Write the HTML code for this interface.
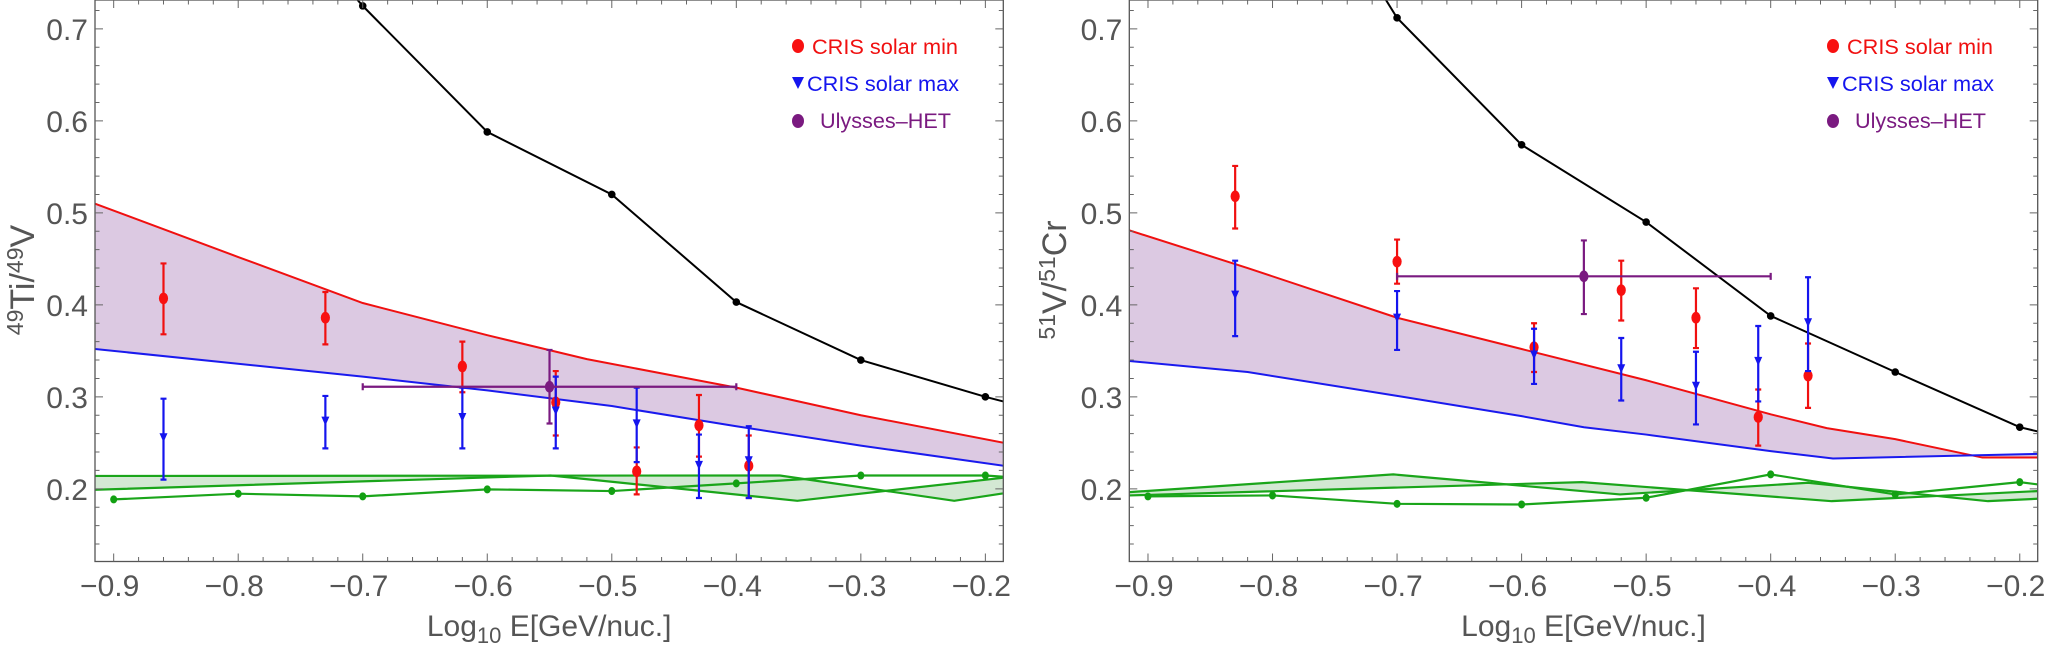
<!DOCTYPE html>
<html><head><meta charset="utf-8"><style>
html,body{margin:0;padding:0;background:#fff;}
svg{display:block;font-family:"Liberation Sans",Arial,sans-serif;}
</style></head><body>
<svg id="chart" width="2050" height="647" viewBox="0 0 2050 647" xmlns="http://www.w3.org/2000/svg">
<defs>
<clipPath id="clipL"><rect x="95" y="0" width="908.5" height="561.5"/></clipPath>
<clipPath id="clipR"><rect x="1129.3" y="0" width="908.5" height="561.5"/></clipPath>
</defs>
</svg>
<script>
// ---------- Data: left panel (49Ti/49V) ----------
const xTicks = [-0.9,-0.8,-0.7,-0.6,-0.5,-0.4,-0.3,-0.2];
const xTickLabels = ["\u22120.9","\u22120.8","\u22120.7","\u22120.6","\u22120.5","\u22120.4","\u22120.3","\u22120.2"];
const yTicks = [0.2,0.3,0.4,0.5,0.6,0.7];
const yTickLabels = ["0.2","0.3","0.4","0.5","0.6","0.7"];

const L_blackX = [-0.8,-0.7,-0.6,-0.5,-0.4,-0.3,-0.2,-0.1];
const L_blackY = [0.88,0.725,0.588,0.52,0.403,0.34,0.30,0.265];
const L_redBandX = [-0.915,-0.8,-0.7,-0.6,-0.52,-0.4,-0.3,-0.185];
const L_redBandY = [0.51,0.452,0.402,0.367,0.341,0.31,0.28,0.25];
const L_blueBandX = [-0.915,-0.7,-0.6,-0.5,-0.4,-0.3,-0.185];
const L_blueBandY = [0.352,0.322,0.307,0.29,0.268,0.247,0.225];
const L_greenUX = [-0.915,-0.365,-0.225,-0.186];
const L_greenUY = [0.214,0.2145,0.187,0.195];
const L_greenLX = [-0.915,-0.549,-0.351,-0.186];
const L_greenLY = [0.199,0.2145,0.187,0.212];
const L_greenDotX = [-0.9,-0.8,-0.7,-0.6,-0.5,-0.4,-0.3,-0.2,-0.1];
const L_greenDotY = [0.1885,0.1947,0.1918,0.1994,0.1976,0.2059,0.2145,0.2145,0.205];
const L_minX = [-0.86,-0.73,-0.62,-0.545,-0.48,-0.43,-0.39];
const L_minY = [0.407,0.386,0.333,0.294,0.219,0.269,0.225];
const L_minLo = [0.368,0.357,0.305,0.258,0.194,0.235,0.19];
const L_minHi = [0.445,0.414,0.36,0.328,0.245,0.302,0.258];
const L_maxX = [-0.86,-0.73,-0.62,-0.545,-0.48,-0.43,-0.39];
const L_maxY = [0.255,0.273,0.277,0.284,0.27,0.225,0.23];
const L_maxLo = [0.21,0.244,0.244,0.244,0.229,0.19,0.19];
const L_maxHi = [0.298,0.301,0.31,0.322,0.31,0.259,0.268];
const L_uly = {x:-0.55, y:0.311, lo:0.271, hi:0.351, xlo:-0.7, xhi:-0.4};

// ---------- Data: right panel (51V/51Cr) ----------
const R_blackX = [-0.8,-0.7,-0.6,-0.5,-0.4,-0.3,-0.2,-0.1];
const R_blackY = [0.93,0.712,0.574,0.49,0.388,0.327,0.267,0.235];
const R_redBandX = [-0.915,-0.82,-0.7,-0.6,-0.5,-0.4,-0.355,-0.3,-0.23,-0.185];
const R_redBandY = [0.481,0.44,0.386,0.352,0.318,0.281,0.266,0.254,0.234,0.234];
const R_blueBandX = [-0.915,-0.82,-0.7,-0.6,-0.55,-0.5,-0.4,-0.35,-0.185];
const R_blueBandY = [0.339,0.327,0.301,0.279,0.267,0.259,0.241,0.233,0.238];
const R_greenUX = [-0.915,-0.703,-0.521,-0.370,-0.2255,-0.186];
const R_greenUY = [0.1964,0.2157,0.1939,0.2066,0.1866,0.1892];
const R_greenLX = [-0.915,-0.5515,-0.351,-0.186];
const R_greenLY = [0.1928,0.2073,0.1866,0.1975];
const R_greenDotX = [-0.9,-0.8,-0.7,-0.6,-0.5,-0.4,-0.3,-0.2,-0.1];
const R_greenDotY = [0.1918,0.1928,0.1837,0.183,0.1903,0.2157,0.1939,0.2073,0.19];
const R_minX = [-0.83,-0.7,-0.59,-0.52,-0.46,-0.41,-0.37];
const R_minY = [0.518,0.447,0.354,0.416,0.386,0.278,0.323];
const R_minLo = [0.483,0.423,0.327,0.383,0.353,0.247,0.288];
const R_minHi = [0.551,0.471,0.38,0.448,0.418,0.308,0.358];
const R_maxX = [-0.83,-0.7,-0.59,-0.52,-0.46,-0.41,-0.37];
const R_maxY = [0.41,0.385,0.345,0.33,0.311,0.338,0.38];
const R_maxLo = [0.366,0.351,0.314,0.296,0.27,0.295,0.328];
const R_maxHi = [0.448,0.415,0.374,0.364,0.349,0.377,0.43];
const R_uly = {x:-0.55, y:0.431, lo:0.39, hi:0.47, xlo:-0.7, xhi:-0.4};

const NS = "http://www.w3.org/2000/svg";
const svg = document.getElementById('chart');
const XMIN=-0.915, XMAX=-0.1856, YMIN=0.121, YMAX=0.7314;
const TOP=0, BOT=561.5;
function mk(parent, tag, attrs){const e=document.createElementNS(NS,tag);for(const k in attrs)e.setAttribute(k,attrs[k]);parent.appendChild(e);return e;}

function panel(left, right, clipId, d, titleParts, titleX, legX){
  const sx = v => left + (v-XMIN)/(XMAX-XMIN)*(right-left);
  const sy = v => TOP + (YMAX-v)/(YMAX-YMIN)*(BOT-TOP);
  const g = mk(svg,'g',{});
  
  
  const pts = (xs,ys)=>xs.map((x,i)=>sx(x).toFixed(2)+','+sy(ys[i]).toFixed(2)).join(' ');
  const plot = mk(g,'g',{'clip-path':'url(#'+clipId+')'});
  
  
  const band = mk(plot,'polygon',{points: pts(d.redX,d.redY)+' '+pts(d.blueX.slice().reverse(),d.blueY.slice().reverse()), fill:'#dcc9e2', stroke:'none'});
  
  
  const gb = mk(plot,'polygon',{points: pts(d.gUX,d.gUY)+' '+pts(d.gLX.slice().reverse(),d.gLY.slice().reverse()), fill:'#d3e8d3', stroke:'none'});
  
  
  let l;
  l = mk(plot,'polyline',{points:pts(d.gUX,d.gUY),fill:'none',stroke:'#1aa51a','stroke-width':2.2});
  
  
  l = mk(plot,'polyline',{points:pts(d.gLX,d.gLY),fill:'none',stroke:'#1aa51a','stroke-width':2.2});
  
  
  l = mk(plot,'polyline',{points:pts(d.redX,d.redY),fill:'none',stroke:'#f01010','stroke-width':2});
  
  
  l = mk(plot,'polyline',{points:pts(d.blueX,d.blueY),fill:'none',stroke:'#1a1aee','stroke-width':2});
  
  
  l = mk(plot,'polyline',{points:pts(d.gdX,d.gdY),fill:'none',stroke:'#1aa51a','stroke-width':2.2});
  
  
  d.gdX.forEach((x,i)=>{const c=mk(plot,'ellipse',{cx:sx(x),cy:sy(d.gdY[i]),rx:3.5,ry:4,fill:'#12a012'});
    
    });
  l = mk(plot,'polyline',{points:pts(d.bkX,d.bkY),fill:'none',stroke:'#000','stroke-width':2});
  
  
  d.bkX.forEach((x,i)=>{const c=mk(plot,'circle',{cx:sx(x),cy:sy(d.bkY[i]),r:3.8,fill:'#000'});
    
    });
  function ebar(x,lo,hi,col){
    const px=sx(x);
    const e=mk(plot,'path',{d:`M${px},${sy(lo)}V${sy(hi)}M${px-3},${sy(lo)}h6M${px-3},${sy(hi)}h6`,stroke:col,'stroke-width':2.2,fill:'none'});
    
    
  }
  d.minX.forEach((x,i)=>{ebar(x,d.minLo[i],d.minHi[i],'#f01010');
    const c=mk(plot,'ellipse',{cx:sx(x),cy:sy(d.minY[i]),rx:4.6,ry:5.8,fill:'#f81010'});
    
    });
  d.maxX.forEach((x,i)=>{ebar(x,d.maxLo[i],d.maxHi[i],'#1515ee');
    const px=sx(x),py=sy(d.maxY[i]);
    const t=mk(plot,'polygon',{points:`${px-4},${py-5} ${px+4},${py-5} ${px},${py+4}`,fill:'#1515ee'});
    
    });
  const u=d.uly;
  const ue=mk(plot,'path',{d:`M${sx(u.xlo)},${sy(u.y)}H${sx(u.xhi)}M${sx(u.xlo)},${sy(u.y)-3.5}v7M${sx(u.xhi)},${sy(u.y)-3.5}v7M${sx(u.x)},${sy(u.lo)}V${sy(u.hi)}M${sx(u.x)-3},${sy(u.lo)}h6M${sx(u.x)-3},${sy(u.hi)}h6`,stroke:'#7a1a80','stroke-width':2.2,fill:'none'});
  
  
  const uc=mk(plot,'ellipse',{cx:sx(u.x),cy:sy(u.y),rx:4.6,ry:5.8,fill:'#7a1a80'});
  
  
  const fr=mk(g,'rect',{x:left,y:TOP,width:right-left,height:BOT-TOP,fill:'none',stroke:'#555','stroke-width':1.3});
  
  
  let tk='';
  for(let v=-0.9; v<=-0.18; v+=0.02){const px=sx(v);const maj=Math.abs(v*10-Math.round(v*10))<1e-6;const L=maj?8:4.5;tk+=`M${px},${BOT}v${-L}M${px},${TOP}v${L}`;}
  for(let v=0.14; v<=0.73; v+=0.02){const py=sy(v);const maj=Math.abs(v*10-Math.round(v*10))<1e-6;const L=maj?8:4.5;tk+=`M${left},${py}h${L}M${right},${py}h${-L}`;}
  const tp=mk(g,'path',{d:tk,stroke:'#666','stroke-width':1,fill:'none'});
  
  
  xTicks.forEach((v,i)=>{const t=mk(g,'text',{x:sx(v)-4,y:596,'text-anchor':'middle','font-size':30,fill:'#555'});t.textContent=xTickLabels[i];
    
    });
  yTicks.forEach((v,i)=>{const t=mk(g,'text',{x:left-7,y:sy(v)+11,'text-anchor':'end','font-size':30,fill:'#555'});t.textContent=yTickLabels[i];
    
    });
  const xt=mk(g,'text',{x:(left+right)/2,y:636,'text-anchor':'middle','font-size':30,fill:'#555'});
  xt.innerHTML='Log<tspan font-size="22" dy="7">10</tspan><tspan dy="-7"> E[GeV/nuc.]</tspan>';
  
  
  const yt=mk(g,'text',{transform:`translate(${titleX},280) rotate(-90)`,'text-anchor':'middle','font-size':34,fill:'#555'});
  yt.innerHTML=`<tspan font-size="23" dy="-11">${titleParts[0]}</tspan><tspan dy="11">${titleParts[1]}/</tspan><tspan font-size="23" dy="-11">${titleParts[2]}</tspan><tspan dy="11">${titleParts[3]}</tspan>`;
  
  
  const lg=mk(g,'g',{});
  
  
  let e;
  e=mk(lg,'ellipse',{cx:legX,cy:46,rx:6,ry:7,fill:'#f81010'});
  
  
  e=mk(lg,'text',{x:legX+14,y:54,'font-size':21,fill:'#f01010',textLength:146,lengthAdjust:'spacingAndGlyphs'});e.textContent='CRIS solar min';
  
  
  e=mk(lg,'polygon',{points:`${legX-6},${77} ${legX+6},${77} ${legX},${89}`,fill:'#1515ee'});
  
  
  e=mk(lg,'text',{x:legX+9,y:91,'font-size':21,fill:'#1515ee',textLength:152,lengthAdjust:'spacingAndGlyphs'});e.textContent='CRIS solar max';
  
  
  e=mk(lg,'ellipse',{cx:legX,cy:121,rx:6,ry:7,fill:'#7a1a80'});
  
  
  e=mk(lg,'text',{x:legX+22,y:128,'font-size':21,fill:'#7a1a80',textLength:131,lengthAdjust:'spacingAndGlyphs'});e.textContent='Ulysses\u2013HET';
  
  
}

panel(95, 1003.3, 'clipL', {name:'left-panel-ti-v',
  bkX:L_blackX,bkY:L_blackY,redX:L_redBandX,redY:L_redBandY,blueX:L_blueBandX,blueY:L_blueBandY,
  gUX:L_greenUX,gUY:L_greenUY,gLX:L_greenLX,gLY:L_greenLY,gdX:L_greenDotX,gdY:L_greenDotY,
  minX:L_minX,minY:L_minY,minLo:L_minLo,minHi:L_minHi,maxX:L_maxX,maxY:L_maxY,maxLo:L_maxLo,maxHi:L_maxHi,uly:L_uly},
  ['49','Ti','49','V'], 34, 798);
panel(1129.3, 2037.7, 'clipR', {name:'right-panel-v-cr',
  bkX:R_blackX,bkY:R_blackY,redX:R_redBandX,redY:R_redBandY,blueX:R_blueBandX,blueY:R_blueBandY,
  gUX:R_greenUX,gUY:R_greenUY,gLX:R_greenLX,gLY:R_greenLY,gdX:R_greenDotX,gdY:R_greenDotY,
  minX:R_minX,minY:R_minY,minLo:R_minLo,minHi:R_minHi,maxX:R_maxX,maxY:R_maxY,maxLo:R_maxLo,maxHi:R_maxHi,uly:R_uly},
  ['51','V','51','Cr'], 1066, 1833);
</script>
</body></html>
